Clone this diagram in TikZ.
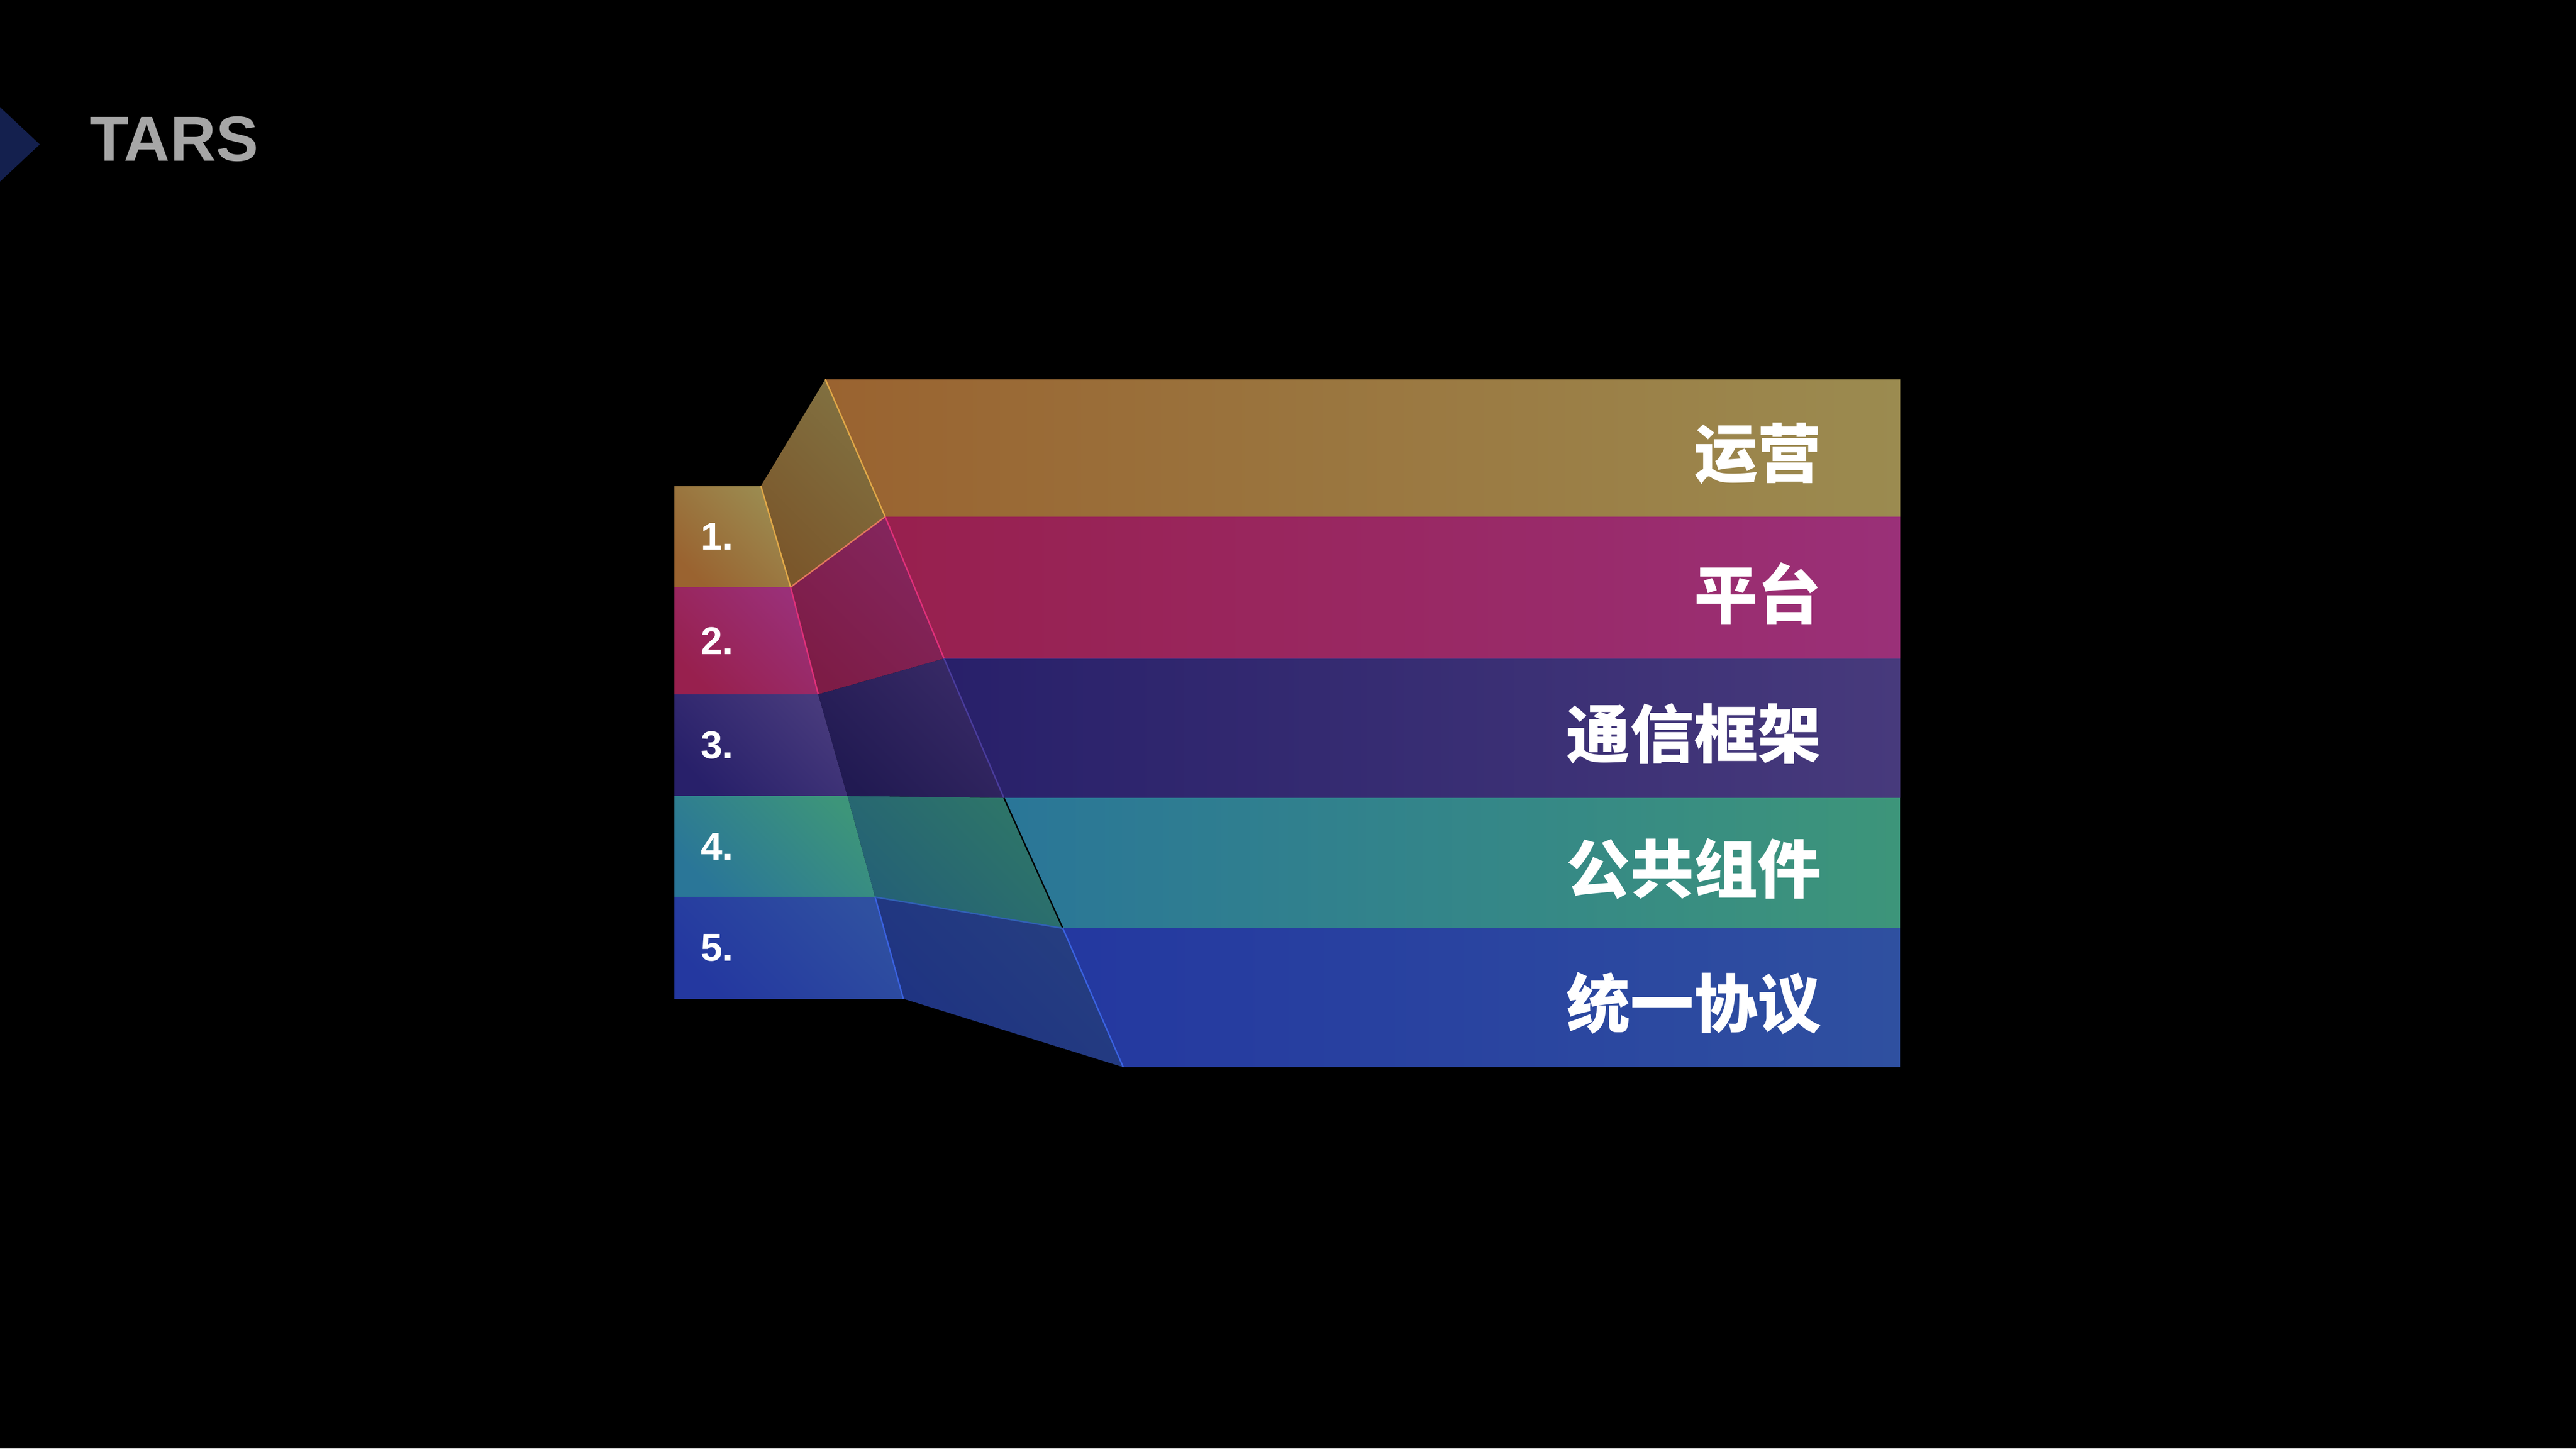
\documentclass[tikz,border=0pt]{standalone}
\usepackage{fontspec}
\setmainfont{Liberation Sans}
\newfontfamily\cjk{Noto Sans CJK SC}
\usepackage{tikz}
\usetikzlibrary{calc}
\usepackage{xcolor}

\definecolor{titlenavy}{HTML}{14204E}
\definecolor{titlegray}{HTML}{A6A6A6}
\definecolor{opsL}{HTML}{9A6330}   \definecolor{opsR}{HTML}{9B8B50}
\definecolor{opsDL}{HTML}{7B572B}  \definecolor{opsDR}{HTML}{817141}
\definecolor{opsE}{HTML}{E0A848}
\definecolor{platL}{HTML}{98204E}  \definecolor{platR}{HTML}{9A3078}
\definecolor{platDL}{HTML}{7D1C46} \definecolor{platDR}{HTML}{84265E}
\definecolor{platE}{HTML}{E0307A}
\definecolor{commL}{HTML}{28206A}  \definecolor{commR}{HTML}{473A7C}
\definecolor{commDL}{HTML}{211A52} \definecolor{commDR}{HTML}{382A66}
\definecolor{commE}{HTML}{4A3C9C}
\definecolor{compL}{HTML}{2A7698}  \definecolor{compR}{HTML}{3D957A}
\definecolor{compDL}{HTML}{246076} \definecolor{compDR}{HTML}{2E7668}
\definecolor{protL}{HTML}{2438A0}  \definecolor{protR}{HTML}{2F50A0}
\definecolor{protDL}{HTML}{1E3282} \definecolor{protDR}{HTML}{263F80}
\definecolor{protE}{HTML}{3A62E0}

\begin{document}
\begin{tikzpicture}[
  cellface/.style 2 args={left color=#1, right color=#2, shading angle=135},
  barface/.style 2 args={left color=#1, right color=#2},
  rim/.style={draw=#1, line width=0.8pt},
  num/.style={font=\fontsize{22}{26}\selectfont\bfseries, text=white, anchor=west, inner sep=0pt},
  tiername/.style={font=\cjk\bfseries\fontsize{36}{43}\selectfont, text=white, anchor=east, inner sep=0pt},
]

% Page
\fill[black] (0,0) rectangle (51.19,28.79);
\useasboundingbox (0,0) rectangle (51.19,28.79);

% Title
\fill[titlenavy] (0,26.66) -- (0.79,25.92) -- (0,25.18) -- cycle;
\node[font=\fontsize{36}{40}\selectfont\bfseries, text=titlegray, anchor=base west, inner sep=0pt] (title) at (1.78,25.59) {TARS};

% Corners: left column (a, r), slanted step (l), right end (e)
\coordinate (a0) at (13.40,19.13); \coordinate (r0) at (15.12,19.13);
\coordinate (a1) at (13.40,17.12); \coordinate (r1) at (15.71,17.12);
\coordinate (a2) at (13.40,14.99); \coordinate (r2) at (16.26,14.99);
\coordinate (a3) at (13.40,12.97); \coordinate (r3) at (16.84,12.97);
\coordinate (a4) at (13.40,10.96); \coordinate (r4) at (17.39,10.96);
\coordinate (a5) at (13.40,8.94);  \coordinate (r5) at (17.95,8.94);
\coordinate (l0) at (16.40,21.25); \coordinate (e0) at (37.76,21.25);
\coordinate (l1) at (17.59,18.52); \coordinate (e1) at (37.76,18.52);
\coordinate (l2) at (18.76,15.70); \coordinate (e2) at (37.76,15.70);
\coordinate (l3) at (19.95,12.93); \coordinate (e3) at (37.76,12.93);
\coordinate (l4) at (21.12,10.34); \coordinate (e4) at (37.76,10.34);
\coordinate (l5) at (22.32,7.58);  \coordinate (e5) at (37.76,7.58);

% Row 1: ops
\shade[cellface={opsL}{opsR}] (a0) -- (r0) -- (r1) -- (a1) -- cycle;
\shade[cellface={opsDL}{opsDR}] (r0) -- (l0) -- (l1) -- (r1) -- cycle;
\shade[barface={opsL}{opsR}] (l0) -- (e0) -- (e1) -- (l1) -- cycle;
\draw[rim=opsE] (r0) -- (r1) (l0) -- (l1);
\node[num] (n1) at ($(a0)!0.5!(a1)+(0.52,0)$) {1.};
\node[tiername] (t1) at ($(e0)!0.5!(e1)+(-1.56,-0.11)$) {运营};

% Row 2: platform
\shade[cellface={platL}{platR}] (a1) -- (r1) -- (r2) -- (a2) -- cycle;
\shade[cellface={platDL}{platDR}] (r1) -- (l1) -- (l2) -- (r2) -- cycle;
\shade[barface={platL}{platR}] (l1) -- (e1) -- (e2) -- (l2) -- cycle;
\draw[rim=platE] (r1) -- (r2) (l1) -- (l2);
\draw[rim=opsE!60!platE] (r1) -- (l1);
\draw[rim=platE!50!commE] (l2) -- (e2);
\node[num] (n2) at ($(a1)!0.5!(a2)+(0.52,0)$) {2.};
\node[tiername] (t2) at ($(e1)!0.5!(e2)+(-1.56,-0.11)$) {平台};

% Row 3: communication framework
\shade[cellface={commL}{commR}] (a2) -- (r2) -- (r3) -- (a3) -- cycle;
\shade[cellface={commDL}{commDR}] (r2) -- (l2) -- (l3) -- (r3) -- cycle;
\shade[barface={commL}{commR}] (l2) -- (e2) -- (e3) -- (l3) -- cycle;
\draw[rim=commE] (l2) -- (l3);
\node[num] (n3) at ($(a2)!0.5!(a3)+(0.52,0)$) {3.};
\node[tiername] (t3) at ($(e2)!0.5!(e3)+(-1.56,-0.11)$) {通信框架};

% Row 4: common components
\shade[cellface={compL}{compR}] (a3) -- (r3) -- (r4) -- (a4) -- cycle;
\shade[cellface={compDL}{compDR}] (r3) -- (l3) -- (l4) -- (r4) -- cycle;
\shade[barface={compL}{compR}] (l3) -- (e3) -- (e4) -- (l4) -- cycle;
\draw[rim=black] (l3) -- (l4);
\node[num] (n4) at ($(a3)!0.5!(a4)+(0.52,0)$) {4.};
\node[tiername] (t4) at ($(e3)!0.5!(e4)+(-1.56,-0.11)$) {公共组件};

% Row 5: unified protocol
\shade[cellface={protL}{protR}] (a4) -- (r4) -- (r5) -- (a5) -- cycle;
\shade[cellface={protDL}{protDR}] (r4) -- (l4) -- (l5) -- (r5) -- cycle;
\shade[barface={protL}{protR}] (l4) -- (e4) -- (e5) -- (l5) -- cycle;
\draw[rim=protE] (r4) -- (r5) (l4) -- (l5);
\draw[rim=protE!60!compDL] (r4) -- (l4);
\node[num] (n5) at ($(a4)!0.5!(a5)+(0.52,0)$) {5.};
\node[tiername] (t5) at ($(e4)!0.5!(e5)+(-1.56,-0.11)$) {统一协议};

\end{tikzpicture}
\end{document}
